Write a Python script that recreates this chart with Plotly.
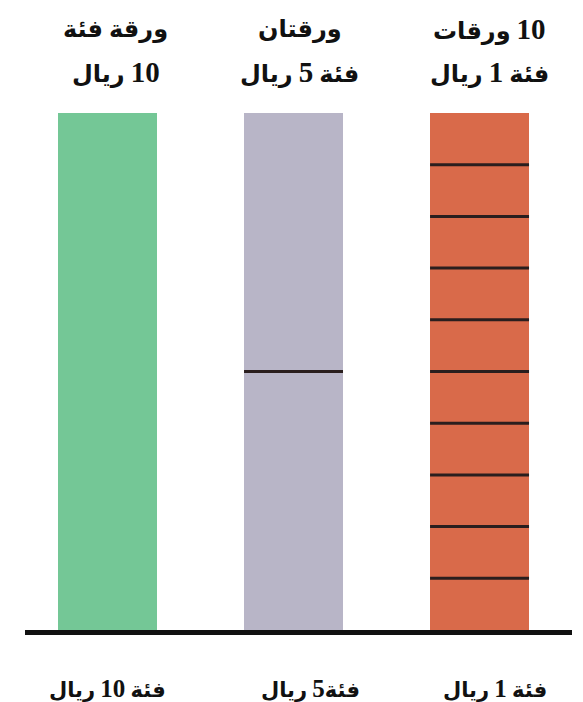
import re
import plotly.graph_objects as go

# Data
denominations = [10, 5, 1]           # riyal value of each note
note_counts = [1, 2, 10]             # number of notes making 10 riyals
top_line1 = ["ورقة فئة", "ورقتان", "10 ورقات"]
top_line2 = ["10 ريال", "فئة 5 ريال", "فئة 1 ريال"]
bottom_labels = ["فئة 10 ريال", "فئة5 ريال", "فئة 1 ريال"]

# Styles / layout
bar_colors = ["#74c796", "#b8b5c7", "#d96a4a"]
top_xshift = [8, 6, 10]
bottom_xshift = [0, 17, 15]

RLE, PDF = "\u202B", "\u202C"
def fmt(s, digit_size):
    s = RLE + s + PDF
    s = re.sub(r"(\u202B?\d+)", lambda m: f"<span style='font-size:{digit_size}px'>{m.group(1)}</span>", s)
    return "<b>" + s + "</b>"

xs = list(range(len(denominations)))
totals = [d * c for d, c in zip(denominations, note_counts)]
bar_w = 0.532

fig = go.Figure()
fig.add_trace(go.Bar(
    x=xs, y=totals, width=bar_w,
    marker=dict(color=bar_colors, line=dict(width=0)),
    hoverinfo="skip", showlegend=False,
))

# separators between notes
for x, d, c in zip(xs, denominations, note_counts):
    for k in range(1, c):
        fig.add_shape(type="line", xref="x", yref="y",
                      x0=x - bar_w / 2, x1=x + bar_w / 2, y0=k * d, y1=k * d,
                      line=dict(color="#2a1e1e", width=3))

font_main = "Liberation Serif, DejaVu Sans, serif"
for i, (x, t1, t2, b) in enumerate(zip(xs, top_line1, top_line2, bottom_labels)):
    fig.add_annotation(x=x, xref="x", y=1, yref="paper", text=fmt(t1, 29),
                       showarrow=False, yanchor="middle", yshift=84, xshift=top_xshift[i],
                       font=dict(family=font_main, size=24, color="#111"))
    fig.add_annotation(x=x, xref="x", y=1, yref="paper", text=fmt(t2, 29),
                       showarrow=False, yanchor="middle", yshift=41, xshift=top_xshift[i],
                       font=dict(family=font_main, size=24, color="#111"))
    fig.add_annotation(x=x, xref="x", y=0, yref="paper", text=fmt(b, 25),
                       showarrow=False, yanchor="middle", yshift=-58, xshift=bottom_xshift[i],
                       font=dict(family=font_main, size=21, color="#111"))

fig.update_layout(
    width=583, height=702,
    margin=dict(l=17, r=19, t=105, b=80),
    paper_bgcolor="white", plot_bgcolor="white",
    xaxis=dict(range=[-0.4435, 2.497], showgrid=False, zeroline=False,
               showticklabels=False, ticks="", showline=True,
               linecolor="#111", linewidth=5, fixedrange=True),
    yaxis=dict(range=[0, 10], visible=False, fixedrange=True),
    bargap=0,
)

fig.write_html("out.html")
